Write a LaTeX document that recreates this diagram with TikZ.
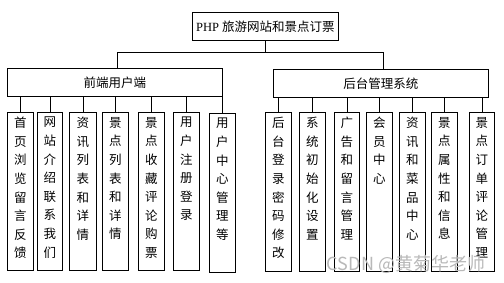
\documentclass[tikz,border=0pt]{standalone}
\usepackage{fontspec}
\newfontfamily\cjk{Noto Sans CJK SC}
\newfontfamily\latinserif{Liberation Serif}
\begin{document}
\begin{tikzpicture}[x=1pt,y=-1pt,
  box/.style={draw=black,line width=0.9pt,fill=white,inner sep=0pt,anchor=north west},
  vtext/.style={anchor=north,inner sep=0pt,align=center,font=\cjk\fontsize{12.5}{18.6}\selectfont},
  link/.style={draw=black,line width=0.9pt}]
\useasboundingbox[fill=white] (0,0) rectangle (504,282);
% top
\node[box,minimum width=146pt,minimum height=28pt,font=\fontsize{12.5}{14}\selectfont] (title) at (192,12) {\latinserif PHP {\cjk 旅游网站和景点订票}};
\node[box,minimum width=215pt,minimum height=28pt,font=\cjk\fontsize{12.5}{14}\selectfont] (left) at (7,68) {前端用户端};
\node[box,minimum width=215pt,minimum height=28pt,font=\cjk\fontsize{12.5}{14}\selectfont] (right) at (273,69) {后台管理系统};
\coordinate (bl) at (117,52);
\coordinate (br) at (383,52);
\draw[link] (title.south) -- (title.south |- bl);
\draw[link] (bl) -- (br);
\draw[link] (bl) -- (bl |- left.north);
\draw[link] (br) -- (br |- right.north);
% left children
\foreach \n/\x/\w/\y/\h/\t in {
  l1/7/26/112/158/{首\\页\\浏\\览\\留\\言\\反\\馈},
  l2/37/25/112/158/{网\\站\\介\\绍\\联\\系\\我\\们},
  l3/69/27/112/158/{资\\讯\\列\\表\\和\\详\\情},
  l4/102/26/112/158/{景\\点\\列\\表\\和\\详\\情},
  l5/138/26/112/158/{景\\点\\收\\藏\\评\\论\\购\\票},
  l6/173/26/112/158/{用\\户\\注\\册\\登\\录},
  l7/209/26/113/159/{用\\户\\中\\心\\管\\理\\等}}{
  \node[box,minimum width=\w pt,minimum height=\h pt] (\n) at (\x,\y) {};
  \node[vtext] (\n t) at ([yshift=-5pt]\n.north) {\t};
  \draw[link] (\n.north) -- (\n.north |- left.south);
}
% right children
\foreach \n/\x/\w/\y/\h/\t in {
  r1/265/26/112/159/{后\\台\\登\\录\\密\\码\\修\\改},
  r2/299/26/112/159/{系\\统\\初\\始\\化\\设\\置},
  r3/334/25/112/159/{广\\告\\和\\留\\言\\管\\理},
  r4/366/26/112/159/{会\\员\\中\\心},
  r5/399/26/112/159/{资\\讯\\和\\菜\\品\\中\\心},
  r6/431/26/112/159/{景\\点\\属\\性\\和\\信\\息},
  r7/469/25/112/159/{景\\点\\订\\单\\评\\论\\管\\理}}{
  \node[box,minimum width=\w pt,minimum height=\h pt] (\n) at (\x,\y) {};
  \node[vtext] (\n t) at ([yshift=-5pt]\n.north) {\t};
  \draw[link] (\n.north) -- (\n.north |- right.south);
}
% watermark
\node[inner sep=0pt,text=gray!55,font=\cjk\fontsize{18}{20}\selectfont] (wm) at (406,264) {CSDN @黄菊华老师};
\end{tikzpicture}
\end{document}
